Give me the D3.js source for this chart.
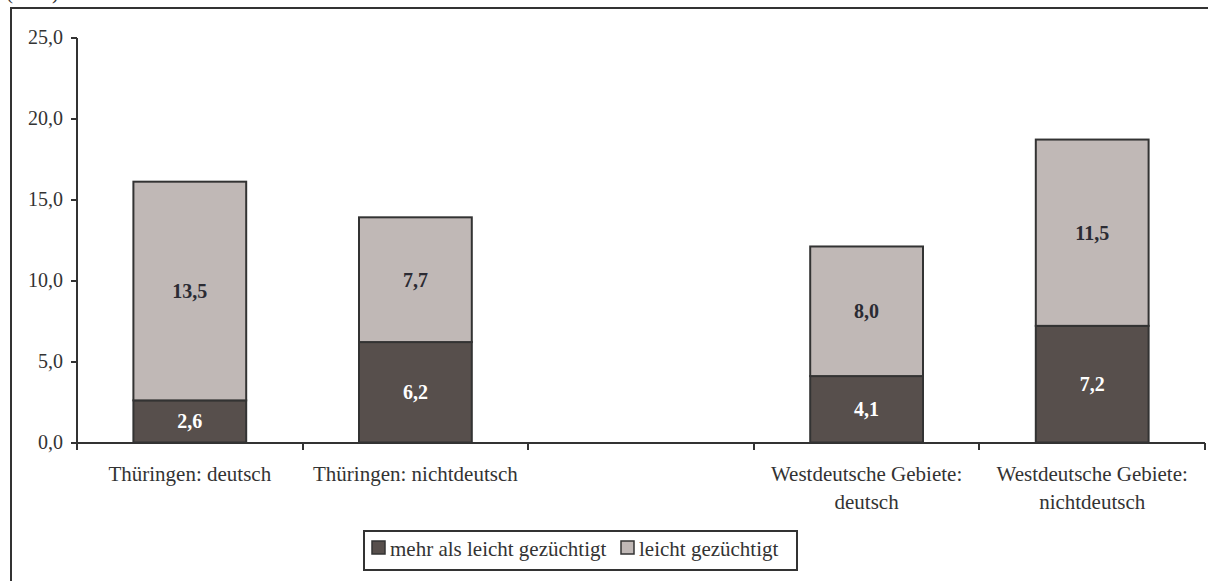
<!DOCTYPE html>
<html lang="de">
<head>
<meta charset="UTF-8">
<title>gezüchtigt</title>
<style>
    body { margin:0; background:#fff; }
    svg text { font-family: "Liberation Serif", "Times New Roman", serif; }
    .axis path, .axis line { stroke:#333; stroke-width:2px; shape-rendering:crispEdges; }
    .axis text { font-size:20px; fill:#333; }
</style>
</head>
<body>
<script src="https://cdn.jsdelivr.net/npm/d3@7/dist/d3.min.js"></script>
<script>
    // Daten
    var categories = ["Thüringen: deutsch", "Thüringen: nichtdeutsch", "", "Westdeutsche Gebiete: deutsch", "Westdeutsche Gebiete: nichtdeutsch"];
    var catLines = [["Thüringen: deutsch"], ["Thüringen: nichtdeutsch"], [], ["Westdeutsche Gebiete:", "deutsch"], ["Westdeutsche Gebiete:", "nichtdeutsch"]];
    var mehr = [2.6, 6.2, null, 4.1, 7.2];
    var leicht = [13.5, 7.7, null, 8.0, 11.5];
    var seriesNames = ["mehr als leicht gezüchtigt", "leicht gezüchtigt"];
    var yTicks = [0, 5, 10, 15, 20, 25];

    var w = 1208, h = 581;
    var colors = ["#574f4c", "#c0b8b6"];
    var serif = "'Liberation Serif', 'Times New Roman', serif";

    var svg = d3.select("body").append("svg").attr("width", w).attr("height", h)
        .attr("font-family", serif);

    // Rahmen
    svg.append("rect").attr("x", 11).attr("y", 8).attr("width", 1220).attr("height", 600)
        .attr("fill", "none").attr("stroke", "#333").attr("stroke-width", 2);
    svg.append("text").attr("x", 6).attr("y", -1).attr("font-size", "21px").attr("fill", "#333").text("(in %)");

    var x = d3.scaleBand().domain(categories).range([77, 1205]).padding(0);
    var y = d3.scaleLinear().domain([0, 25]).range([442.5, 37.5]);

    var rows = categories.map(function (c, i) {
        return {cat: c, a: mehr[i], b: leicht[i]};
    }).filter(function (d) { return d.a != null; });

    var bw = x.bandwidth() / 2;

    var g = svg.selectAll("g.bar").data(rows).enter().append("g").attr("class", "bar");
    g.append("rect")
        .attr("x", function (d) { return x(d.cat) + bw / 2; })
        .attr("y", function (d) { return y(d.a); })
        .attr("width", bw)
        .attr("height", function (d) { return y(0) - y(d.a); })
        .attr("fill", colors[0]).attr("stroke", "#333").attr("stroke-width", 2);
    g.append("rect")
        .attr("x", function (d) { return x(d.cat) + bw / 2; })
        .attr("y", function (d) { return y(d.a + d.b); })
        .attr("width", bw)
        .attr("height", function (d) { return y(d.a) - y(d.a + d.b); })
        .attr("fill", colors[1]).attr("stroke", "#333").attr("stroke-width", 2);

    var fmt = function (v) { return d3.format(".1f")(v).replace(".", ","); };
    g.append("text")
        .attr("x", function (d) { return x(d.cat) + x.bandwidth() / 2; })
        .attr("y", function (d) { return (y(0) + y(d.a)) / 2; })
        .attr("dy", "0.35em").attr("text-anchor", "middle")
        .attr("font-size", "20px").attr("font-weight", "bold").attr("fill", "#fff")
        .text(function (d) { return fmt(d.a); });
    g.append("text")
        .attr("x", function (d) { return x(d.cat) + x.bandwidth() / 2; })
        .attr("y", function (d) { return (y(d.a) + y(d.a + d.b)) / 2; })
        .attr("dy", "0.35em").attr("text-anchor", "middle")
        .attr("font-size", "20px").attr("font-weight", "bold").attr("fill", "#2b2b33")
        .text(function (d) { return fmt(d.b); });

    // y-Achse
    var yAxis = d3.axisLeft(y).tickValues(yTicks).tickSize(6).tickPadding(8).tickFormat(fmt);
    svg.append("g").attr("class", "axis").attr("transform", "translate(77,0)").call(yAxis)
        .attr("font-family", serif)
        .call(function (s) { s.select(".domain").attr("d", "M0," + y(0) + "V" + y(25)); });

    // x-Achse mit Trennstrichen zwischen den Kategorien
    var xg = svg.append("g").attr("class", "axis");
    xg.append("line").attr("x1", 77).attr("x2", 1205).attr("y1", y(0)).attr("y2", y(0));
    var bounds = categories.map(function (c) { return x(c); }).concat([x.range()[1]]);
    xg.selectAll("line.tick").data(bounds).enter().append("line").attr("class", "tick")
        .attr("x1", function (d) { return d; }).attr("x2", function (d) { return d; })
        .attr("y1", y(0)).attr("y2", y(0) + 7);

    var lab = svg.selectAll("text.cat").data(categories).enter().append("text").attr("class", "cat")
        .attr("text-anchor", "middle").attr("font-size", "21px").attr("fill", "#333")
        .attr("font-family", serif)
        .attr("x", function (d) { return x(d) + x.bandwidth() / 2; })
        .attr("y", 481);
    lab.selectAll("tspan").data(function (d, i) { return catLines[i]; }).enter().append("tspan")
        .attr("x", function () { return d3.select(this.parentNode).attr("x"); })
        .attr("dy", function (d, i) { return i === 0 ? 0 : 28; })
        .text(function (d) { return d; });

    // Legende
    var lg = svg.append("g");
    lg.append("rect").attr("x", 364).attr("y", 531).attr("width", 433).attr("height", 39)
        .attr("fill", "#fff").attr("stroke", "#333").attr("stroke-width", 2);
    var items = [{n: seriesNames[0], c: colors[0], x: 372}, {n: seriesNames[1], c: colors[1], x: 621}];
    items.forEach(function (it) {
        lg.append("rect").attr("x", it.x).attr("y", 541).attr("width", 13).attr("height", 13)
            .attr("fill", it.c).attr("stroke", "#333").attr("stroke-width", 1.5);
        lg.append("text").attr("x", it.x + 18).attr("y", 556).attr("font-size", "21px")
            .attr("font-family", serif).attr("fill", "#333").text(it.n);
    });
</script>
</body>
</html>
